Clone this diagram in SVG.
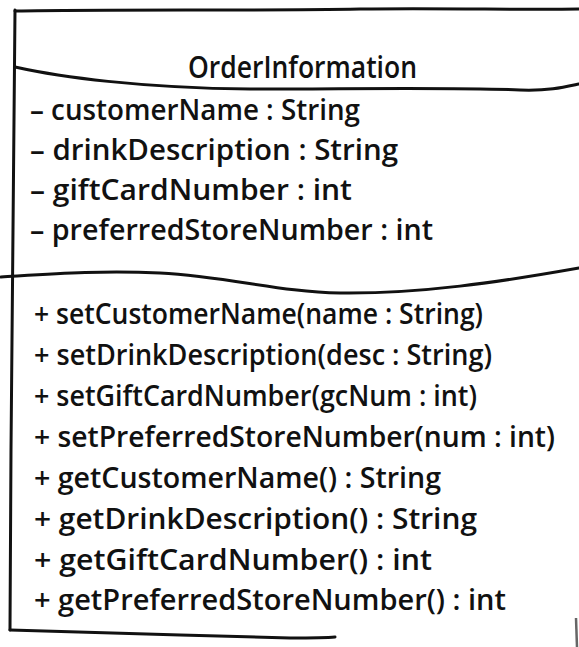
<svg xmlns="http://www.w3.org/2000/svg" width="579" height="647" viewBox="0 0 579 647">
<style>
.ln{fill:none;stroke:#111;stroke-width:3;stroke-linecap:round;stroke-linejoin:round}
.t{font-family:"Open Sans","Liberation Sans",sans-serif;font-size:29px;font-weight:600;fill:#111}
.h{font-family:"Open Sans","Liberation Sans",sans-serif;font-size:30px;font-weight:600;fill:#111}
</style>
<rect width="579" height="647" fill="#fff"/>
<g id="OrderInformation">
<path class="ln" d="M15,11 C120,9 250,11 360,9 C450,8 520,10 579,9"/>
<path class="ln" d="M15,10 C14,150 13,300 11,450 C10,540 10,600 10,630"/>
<path class="ln" d="M15,67 C60,77 140,88 250,89 C350,89 460,87 520,90 C550,91 565,87 579,84"/>
<path class="ln" d="M1,277 C50,274 100,270 160,273 C230,277 280,292 340,293 C420,294 500,282 579,268"/>
<path class="ln" d="M10,630 C80,632 200,636 290,638 C310,638 325,638 335,637"/>
<path d="M576,618 L577,647" stroke="#666" stroke-width="2.5" fill="none"/>
<text class="h" x="188" y="78" textLength="229" lengthAdjust="spacingAndGlyphs">OrderInformation</text>
<text class="t" x="30" y="120" textLength="330" lengthAdjust="spacingAndGlyphs">– customerName : String</text>
<text class="t" x="30" y="160" textLength="368" lengthAdjust="spacingAndGlyphs">– drinkDescription : String</text>
<text class="t" x="30" y="200" textLength="322" lengthAdjust="spacingAndGlyphs">– giftCardNumber : int</text>
<text class="t" x="30" y="240" textLength="403" lengthAdjust="spacingAndGlyphs">– preferredStoreNumber : int</text>
<text class="t" x="34" y="324" textLength="449" lengthAdjust="spacingAndGlyphs">+ setCustomerName(name : String)</text>
<text class="t" x="34" y="365" textLength="458" lengthAdjust="spacingAndGlyphs">+ setDrinkDescription(desc : String)</text>
<text class="t" x="34" y="406" textLength="443" lengthAdjust="spacingAndGlyphs">+ setGiftCardNumber(gcNum : int)</text>
<text class="t" x="34" y="447" textLength="521" lengthAdjust="spacingAndGlyphs">+ setPreferredStoreNumber(num : int)</text>
<text class="t" x="34" y="488" textLength="407" lengthAdjust="spacingAndGlyphs">+ getCustomerName() : String</text>
<text class="t" x="34" y="529" textLength="443" lengthAdjust="spacingAndGlyphs">+ getDrinkDescription() : String</text>
<text class="t" x="34" y="570" textLength="398" lengthAdjust="spacingAndGlyphs">+ getGiftCardNumber() : int</text>
<text class="t" x="34" y="610" textLength="472" lengthAdjust="spacingAndGlyphs">+ getPreferredStoreNumber() : int</text>
</g>
</svg>
